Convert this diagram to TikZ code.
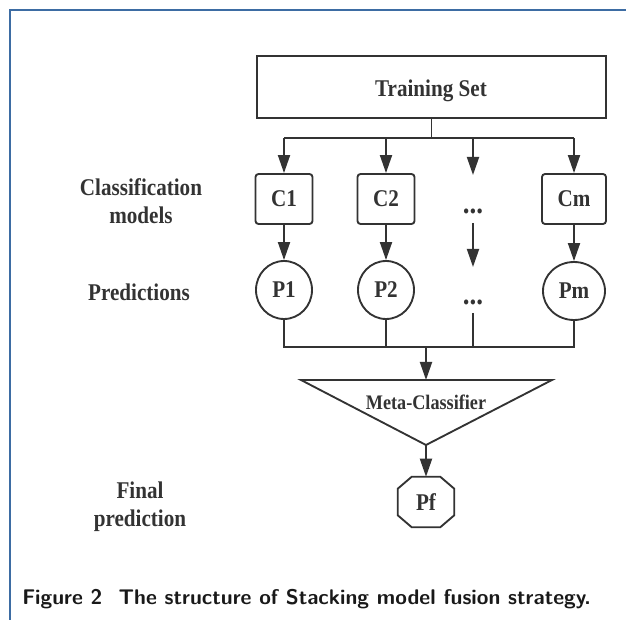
\documentclass[tikz,border=0pt]{standalone}
\usepackage{fontspec}
\usetikzlibrary{arrows.meta,shapes.geometric,calc}
\newfontfamily\figfont[FakeStretch=0.88]{Liberation Serif}
\definecolor{ink}{HTML}{333333}
\definecolor{framecol}{HTML}{3D6CA3}

\begin{document}
\begin{tikzpicture}[x=0.75pt,y=-0.75pt,
  line/.style={draw=ink,line width=1.4pt},
  arr/.style={line,-{Triangle[length=13.5pt,width=9pt]}},
  lbl/.style={font=\figfont\fontsize{18pt}{21pt}\selectfont\bfseries,text=ink,align=center},
  dots/.style={font=\figfont\fontsize{23pt}{26pt}\selectfont\bfseries,text=ink,inner sep=0pt},
  box/.style={line,lbl,rounded corners=2.25pt,minimum height=37.5pt,inner sep=0pt},
  pred/.style={line,lbl,ellipse,minimum height=43.5pt,inner sep=0pt}]

\useasboundingbox (0,0) rectangle (626,620);

% page frame
\draw[framecol,line width=1.5pt] (626,10) -- (10,10) -- (10,620);

% training data
\node[line,minimum width=261.75pt,minimum height=46.5pt,inner sep=0pt] (ts) at (431.5,87) {};
\node[lbl] (tstext) at (431,91) {Training Set};

% base classifiers
\node[box,minimum width=42.75pt] (c1) at (284,199) {C1};
\node[box,minimum width=42.75pt] (c2) at (386,199) {C2};
\node[dots,anchor=base] (d1) at (473,214) {...};
\node[box,minimum width=48pt] (cm) at (574,199) {Cm};

% their predictions
\node[pred,minimum width=42pt] (p1) at (284,290) {P1};
\node[pred,minimum width=42pt] (p2) at (386,290) {P2};
\node[dots,anchor=base] (d2) at (473,305) {...};
\node[pred,minimum width=46.5pt] (pm) at (574,291) {Pm};

% row labels
\node[lbl] (lc) at (141,201) {Classification\\models};
\node[lbl] (lp) at (139,292) {Predictions};
\node[lbl] (lf) at (140,507) {Final\\prediction};

% fan-out from the training set
\coordinate (sp) at (431.5,138);
\draw[line] (ts.south) -- (sp);
\draw[line] (c1.north |- sp) -- (cm.north |- sp);
\foreach \n in {c1,c2,cm} \draw[arr] (\n.north |- sp) -- (\n.north);
\coordinate (d1top) at (473,175);
\draw[arr] (d1top |- sp) -- (d1top);

% classifier -> prediction
\draw[arr] (c1.south) -- (p1.north);
\draw[arr] (c2.south) -- (p2.north);
\draw[arr] (cm.south) -- (cm.south |- pm.north);
\coordinate (d1out) at (473,223);
\coordinate (d2in) at (473,267);
\draw[arr] (d1out) -- (d2in);

% fan-in to the meta classifier
\coordinate (jn) at (426,347);
\draw[line] (p1.south) -- (p1.south |- jn) -- (pm.south |- jn) -- (pm.south);
\draw[line] (p2.south) -- (p2.south |- jn);
\coordinate (d2out) at (473,313);
\draw[line] (d2out) -- (d2out |- jn);

% meta classifier (inverted triangle)
\coordinate (mtl) at (301,380);
\coordinate (mtr) at (552,380);
\coordinate (mbot) at (426,445);
\draw[line,line join=miter] (mtl) -- (mtr) -- (mbot) -- cycle;
\node[lbl,font=\figfont\fontsize{15.5pt}{18pt}\selectfont\bfseries] (meta) at (426,402) {Meta-Classifier};
\draw[arr] (jn) -- (jn |- mtl);

% final prediction (octagon)
\node[lbl,minimum width=42pt,minimum height=37.5pt,inner sep=0pt] (pf) at (426,502) {Pf};
\draw[line,line join=miter]
  ($(pf.north west)+(14,0)$) -- ($(pf.north east)+(-14,0)$) --
  ($(pf.north east)+(0,12)$) -- ($(pf.south east)+(0,-12)$) --
  ($(pf.south east)+(-14,0)$) -- ($(pf.south west)+(14,0)$) --
  ($(pf.south west)+(0,-12)$) -- ($(pf.north west)+(0,12)$) -- cycle;
\draw[arr] (mbot) -- (pf.north);

% caption
\node[anchor=base west,inner sep=0pt,text=black!90,
  font=\sffamily\bfseries\fontsize{15.9pt}{18pt}\selectfont] (cap) at (22,605)
  {Figure 2\hspace{0.4em} The structure of Stacking model fusion strategy.};
\end{tikzpicture}
\end{document}
